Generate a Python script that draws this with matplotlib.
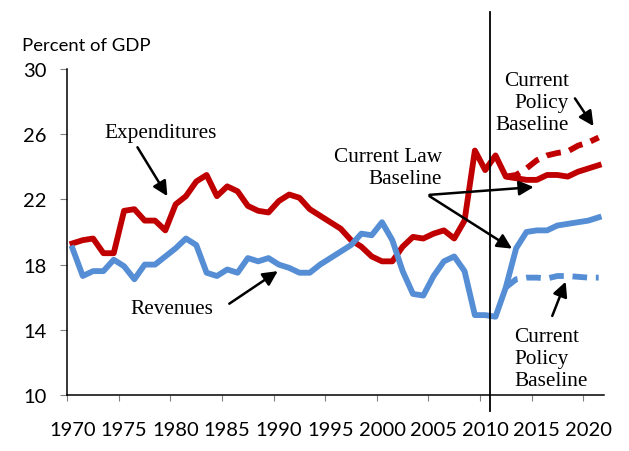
import numpy as np
import matplotlib.pyplot as plt

# Federal revenues and expenditures, percent of GDP
years = list(range(1970, 2022))
expenditures = [19.3, 19.5, 19.6, 18.7, 18.7, 21.3, 21.4, 20.7, 20.7, 20.1,
                21.7, 22.2, 23.1, 23.5, 22.2, 22.8, 22.5, 21.6, 21.3, 21.2,
                21.9, 22.3, 22.1, 21.4, 21.0, 20.6, 20.2, 19.5, 19.1, 18.5,
                18.2, 18.2, 19.1, 19.7, 19.6, 19.9, 20.1, 19.6, 20.7, 25.0,
                23.8, 24.7, 23.4, 23.3, 23.2, 23.2, 23.5, 23.5, 23.4, 23.7,
                23.9, 24.1]
revenues = [19.0, 17.3, 17.6, 17.6, 18.3, 17.9, 17.1, 18.0, 18.0, 18.5,
            19.0, 19.6, 19.2, 17.5, 17.3, 17.7, 17.5, 18.4, 18.2, 18.4,
            18.0, 17.8, 17.5, 17.5, 18.0, 18.4, 18.8, 19.2, 19.9, 19.8,
            20.6, 19.5, 17.6, 16.2, 16.1, 17.3, 18.2, 18.5, 17.6, 14.9,
            14.9, 14.8, 16.6, 19.0, 20.0, 20.1, 20.1, 20.4, 20.5, 20.6,
            20.7, 20.9]

# current policy baseline (dashed)
policy_years = list(range(2012, 2022))
exp_policy = [23.4, 23.5, 23.9, 24.4, 24.7, 24.85, 24.95, 25.3, 25.5, 25.8]
rev_policy = [16.6, 17.1, 17.2, 17.2, 17.15, 17.3, 17.3, 17.25, 17.2, 17.2]

y_ticks = [10, 14, 18, 22, 26, 30]
x_labels = list(range(1970, 2021, 5))

red = '#C00000'
blue = '#558ED5'

fig = plt.figure(figsize=(6.29, 4.52), dpi=100)
ax = fig.add_axes([0.107, 0.124, 0.853, 0.721])

ax.plot(years, expenditures, color=red, lw=4.2, solid_joinstyle='round')
ax.plot(years, revenues, color=blue, lw=4.2, solid_joinstyle='round')
ax.plot(policy_years, exp_policy, color=red, lw=4.2, ls=(0, (2.5, 1.5)))
ax.plot(policy_years, rev_policy, color=blue, lw=4.2, ls=(0, (2.5, 1.5)))

# vertical divider between history and projections
ax.plot([2010.43, 2010.43], [33.5, 9.0], color='black', lw=1.3, clip_on=False)

ax.set_xlim(1969.5, 2021.5)
ax.set_ylim(10, 30)
ax.set_yticks(y_ticks)
ax.set_xticks(np.arange(1969.5, 2020, 5))
ax.set_xticklabels([])
ax.set_xticks(x_labels, minor=True)
ax.set_xticklabels([str(y) for y in x_labels], minor=True)

for s in ['top', 'right']:
    ax.spines[s].set_visible(False)
for s in ['left', 'bottom']:
    ax.spines[s].set_linewidth(1.1)

ax.tick_params(axis='y', which='major', length=5, color='#808080', labelsize=14.5, pad=10)
ax.tick_params(axis='x', which='major', length=4, color='#808080')
ax.tick_params(axis='x', which='minor', length=0, labelsize=14.5, pad=19)
for lab in ax.get_yticklabels() + ax.get_xticklabels(minor=True):
    lab.set_family('Lato')

fig.text(22 / 629, 1 - 46 / 452, 'Percent of GDP', family='Lato', fontsize=13.3, va='center')

serif = 'Liberation Serif'
ap = dict(arrowstyle='-|>', color='black', lw=1.8, mutation_scale=22, shrinkA=0, shrinkB=0)

ax.text(1978.5, 26.1, 'Expenditures', family=serif, fontsize=15.3, ha='center', va='center')
ax.annotate('', xy=(1979.2, 22.2), xytext=(1976.3, 25.2), arrowprops=ap)

ax.text(1979.6, 15.3, 'Revenues', family=serif, fontsize=15.3, ha='center', va='center')
ax.annotate('', xy=(1989.9, 17.6), xytext=(1985.2, 15.6), arrowprops=ap)

ax.text(2005.8, 23.95, 'Current Law\nBaseline', family=serif, fontsize=15.3,
        ha='right', va='center', multialignment='right', linespacing=1.2)
ax.annotate('', xy=(2014.7, 22.76), xytext=(2004.6, 22.28), arrowprops=ap)
ax.annotate('', xy=(2012.6, 18.98), xytext=(2004.6, 22.2), arrowprops=ap)

ax.text(2018.1, 27.95, 'Current\nPolicy\nBaseline', family=serif, fontsize=15.3,
        ha='right', va='center', multialignment='right', linespacing=1.2)
ax.annotate('', xy=(2020.5, 26.5), xytext=(2018.7, 28.2), arrowprops=ap)

ax.text(2012.8, 12.25, 'Current\nPolicy\nBaseline', family=serif, fontsize=15.3,
        ha='left', va='center', multialignment='left', linespacing=1.2)
ax.annotate('', xy=(2017.8, 16.95), xytext=(2016.5, 14.85), arrowprops=ap)

plt.savefig('out.png', dpi=100)
